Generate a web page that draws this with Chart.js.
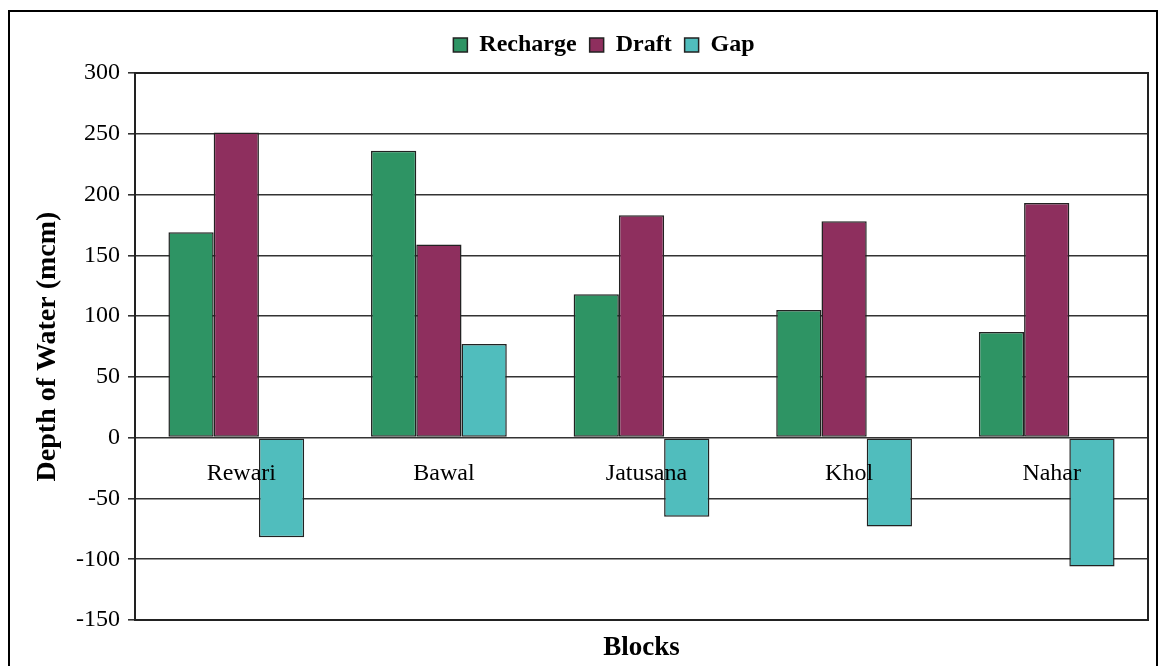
<!DOCTYPE html>
<html>
<head>
<meta charset="utf-8">
<script src="https://cdn.jsdelivr.net/npm/chart.js@4.4.1/dist/chart.umd.min.js"></script>
<style>
    html, body { margin: 0; padding: 0; background: #fff; overflow: hidden; }
    #wrap { position: relative; width: 1160px; height: 666px; }
    #frame { position: absolute; left: 8px; top: 10px; width: 1146px; height: 700px; border: 2px solid #000; }
    #myChart { position: absolute; left: 0; top: 0; }
</style>
</head>
<body>
<div id="wrap">
    <div id="frame"></div>
    <canvas id="myChart" width="1160" height="666"></canvas>
</div>
<script>
// data
const blocks = ['Rewari', 'Bawal', 'Jatusana', 'Khol', 'Nahar'];
const recharge = [169, 236, 118, 105, 87];
const draft = [251, 159, 183, 178, 193];
const gap = [-82, 77, -65, -73, -106];

const serif = "'Liberation Serif', 'Times New Roman', serif";

// frame round the plot area
const plotFrame = {
    id: 'plotFrame',
    afterDatasetsDraw(chart) {
        const a = chart.chartArea, c = chart.ctx;
        c.save();
        c.strokeStyle = '#222';
        c.lineWidth = 2;
        c.strokeRect(a.left, a.top, a.right - a.left, a.bottom - a.top);
        c.restore();
    }
};

// legend sits a bit right of the canvas centre in the original
const legendShift = {
    id: 'legendShift',
    afterLayout(chart) {
        chart.legend.left += 30;
        chart.legend.right += 30;
    }
};

const ctx = document.getElementById('myChart');

new Chart(ctx, {
    type: 'bar',
    data: {
        labels: blocks,
        datasets: [
            { label: 'Recharge', data: recharge, backgroundColor: '#2e9464' },
            { label: 'Draft', data: draft, backgroundColor: '#8e2f5e' },
            { label: 'Gap', data: gap, backgroundColor: '#50bdbd' }
        ].map(d => Object.assign(d, {
            borderColor: '#222',
            borderWidth: 1.5,
            borderSkipped: false,
            barPercentage: 1,
            categoryPercentage: 0.67
        }))
    },
    options: {
        responsive: false,
        animation: false,
        layout: { padding: { left: 0, right: 12, top: 20, bottom: 0 } },
        plugins: {
            legend: {
                position: 'top',
                labels: {
                    color: '#000',
                    font: { family: serif, size: 24, weight: 'bold' },
                    boxWidth: 14,
                    boxHeight: 14,
                    padding: 13
                }
            },
            tooltip: { enabled: false }
        },
        scales: {
            x: {
                type: 'category',
                position: { y: 0 },
                grid: { display: false, drawTicks: false },
                border: { display: false },
                ticks: {
                    z: 1,
                    color: '#000',
                    font: { family: serif, size: 24 },
                    padding: 22,
                    labelOffset: 5,
                    maxRotation: 0
                }
            },
            // empty axis, only keeps a gap under the legend
            xTop: {
                type: 'category',
                position: 'top',
                labels: blocks,
                grid: { display: false, drawTicks: false },
                border: { display: false },
                ticks: { display: false },
                afterFit(scale) { scale.height = 6; }
            },
            x2: {
                type: 'category',
                position: 'bottom',
                labels: blocks,
                grid: { display: false, drawTicks: false },
                border: { display: false },
                ticks: { display: false },
                title: {
                    display: true,
                    text: 'Blocks',
                    color: '#000',
                    font: { family: serif, size: 27, weight: 'bold' },
                    padding: { top: 4, bottom: 2 }
                },
                afterFit(scale) { scale.height = 46; }
            },
            y: {
                min: -150,
                max: 300,
                ticks: {
                    stepSize: 50,
                    color: '#000',
                    font: { family: serif, size: 24 },
                    padding: 8
                },
                grid: { color: '#333', lineWidth: 1.6, tickLength: 7, tickColor: '#333' },
                border: { display: true, color: '#111', width: 2 },
                title: {
                    display: true,
                    text: 'Depth of Water (mcm)',
                    color: '#000',
                    font: { family: serif, size: 28, weight: 'bold' },
                    padding: { top: 31, bottom: 0 }
                },
                afterFit(scale) { scale.width = 135; }
            }
        }
    },
    plugins: [plotFrame, legendShift]
});
</script>
</body>
</html>
